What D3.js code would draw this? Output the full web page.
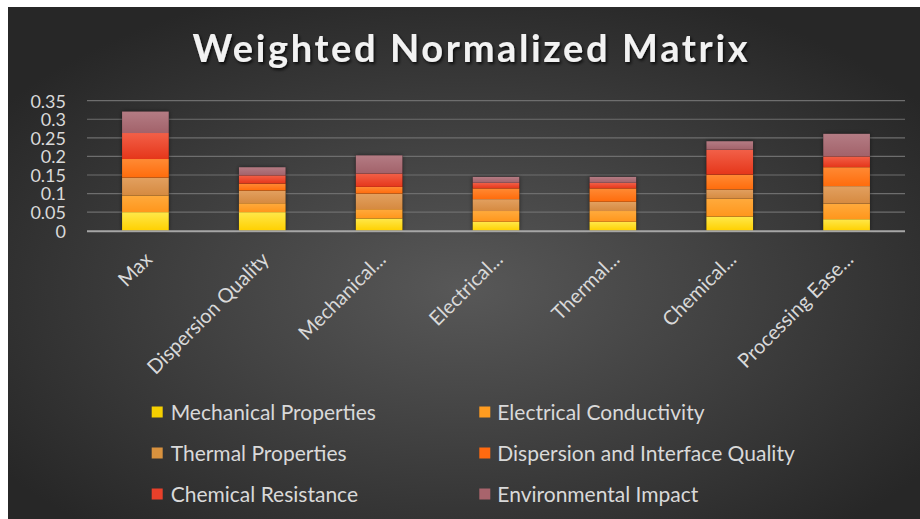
<!DOCTYPE html>
<html><head><meta charset="utf-8">
<script src="https://cdn.jsdelivr.net/npm/d3@7/dist/d3.min.js"></script>
<style>html,body{margin:0;padding:0;background:#fff;}svg{display:block;}</style>
</head><body>
<svg id="chart" width="920" height="519"></svg>
<script>
const categories = ["Max","Dispersion Quality","Mechanical...","Electrical...","Thermal...","Chemical...","Processing Ease..."];
const seriesNames = ["Mechanical Properties","Electrical Conductivity","Thermal Properties","Dispersion and Interface Quality","Chemical Resistance","Environmental Impact"];
const mechanical = [0.050, 0.050, 0.033, 0.024, 0.024, 0.038, 0.031];
const electrical = [0.045, 0.024, 0.025, 0.029, 0.029, 0.048, 0.042];
const thermal    = [0.048, 0.034, 0.042, 0.032, 0.025, 0.025, 0.047];
const dispersion = [0.050, 0.019, 0.018, 0.029, 0.036, 0.040, 0.051];
const chemical   = [0.070, 0.022, 0.036, 0.015, 0.015, 0.067, 0.029];
const environmental = [0.058, 0.022, 0.049, 0.016, 0.016, 0.023, 0.061];
const yTicks = [0, 0.05, 0.1, 0.15, 0.2, 0.25, 0.3, 0.35];
const yTickLabels = ["0","0.05","0.1","0.15","0.2","0.25","0.3","0.35"];
const title = "Weighted Normalized Matrix";

const seriesValues = [mechanical, electrical, thermal, dispersion, chemical, environmental];
const colors = ["#FFD000","#FF961C","#D68A40","#FF6C0C","#E5361A","#A2626A"];
const topColors = ["#FFE84A","#FFAA3C","#E2A060","#FF8A34","#F26048","#B47C84"];
const legendColors = ["#F5D000","#FF9C20","#D9923E","#FF6A10","#E8402A","#A8646C"];

const svg = d3.select("#chart");
const defs = svg.append("defs");
const bg = defs.append("radialGradient").attr("id","bg").attr("cx","50%").attr("cy","55%").attr("r","62%");
bg.append("stop").attr("offset","0%").attr("stop-color","#585858");
bg.append("stop").attr("offset","100%").attr("stop-color","#272727");
seriesNames.forEach((s,i)=>{
  const g = defs.append("linearGradient").attr("id","sg"+i).attr("x1",0).attr("y1",0).attr("x2",0).attr("y2",1);
  g.append("stop").attr("offset","0%").attr("stop-color",topColors[i]);
  g.append("stop").attr("offset","100%").attr("stop-color",colors[i]);
});
const sh = defs.append("filter").attr("id","tshadow").attr("x","-10%").attr("y","-30%").attr("width","120%").attr("height","160%");
sh.append("feDropShadow").attr("dx",1.5).attr("dy",2).attr("stdDeviation",1.5).attr("flood-color","#000").attr("flood-opacity",0.8);
const bsh = defs.append("filter").attr("id","bshadow").attr("x","-20%").attr("y","-10%").attr("width","140%").attr("height","120%");
bsh.append("feDropShadow").attr("dx",0).attr("dy",0).attr("stdDeviation",2).attr("flood-color","#000").attr("flood-opacity",0.5);

svg.append("rect").attr("x",8).attr("y",7).attr("width",912).attr("height",512).attr("fill","url(#bg)");

svg.append("text").attr("x",470).attr("y",62).attr("text-anchor","middle")
  .attr("font-family","Lato, 'Open Sans', sans-serif").attr("font-weight","bold").attr("font-size",38)
  .attr("textLength",555).attr("lengthAdjust","spacing")
  .attr("fill","#f2f2f2").attr("filter","url(#tshadow)").text(title);

const x = d3.scaleBand().domain(categories).range([87,905]).paddingInner(0.6).paddingOuter(0.3);
const y = d3.scaleLinear().domain([0,0.35]).range([230.7,100.7]);

// gridlines
svg.append("g").selectAll("line").data(yTicks.filter(t=>t>0)).join("line")
  .attr("x1",87).attr("x2",905).attr("y1",d=>y(d)).attr("y2",d=>y(d))
  .attr("stroke","#6e6e6e").attr("stroke-width",1.2);

// y axis labels
const yAxis = d3.axisLeft(y).tickValues(yTicks).tickFormat((d,i)=>yTickLabels[i]).tickSize(0).tickPadding(0);
const ya = svg.append("g").attr("transform","translate(66,0)").call(yAxis);
ya.select(".domain").remove();
ya.selectAll("text").attr("font-family","Lato, 'Open Sans', sans-serif").attr("font-size",18).attr("fill","#d9d9d9").attr("dy","0.35em");

// stacked bars
const table = categories.map((c,ci)=>{ const o={cat:c}; seriesNames.forEach((s,si)=>o[s]=seriesValues[si][ci]); return o; });
const stack = d3.stack().keys(seriesNames)(table);
const barsG = svg.append("g");
barsG.selectAll("rect.sh").data(table).join("rect").attr("class","sh")
  .attr("x",d=>x(d.cat)).attr("width",x.bandwidth())
  .attr("y",(d,i)=>y(stack[stack.length-1][i][1])).attr("height",(d,i)=>y(0)-y(stack[stack.length-1][i][1]))
  .attr("fill","#000").attr("filter","url(#bshadow)");
stack.forEach((layer,si)=>{
  barsG.append("g").selectAll("rect").data(layer).join("rect")
    .attr("x",d=>x(d.data.cat)).attr("width",x.bandwidth())
    .attr("y",d=>y(d[1])).attr("height",d=>y(d[0])-y(d[1]))
    .attr("fill","url(#sg"+si+")");
});

// x axis line
svg.append("line").attr("x1",87).attr("x2",905).attr("y1",y(0)+0.5).attr("y2",y(0)+0.5).attr("stroke","#a6a6a6").attr("stroke-width",2);

// category labels
const xAxis = d3.axisBottom(x).tickSize(0).tickPadding(0);
const xa = svg.append("g").attr("transform","translate(0,"+y(0)+")").call(xAxis);
xa.select(".domain").remove();
xa.selectAll("text").attr("font-family","Lato, 'Open Sans', sans-serif").attr("font-size",20).attr("fill","#d9d9d9")
  .attr("text-anchor","end").attr("dy",0).attr("y",0)
  .attr("transform","translate(8,30) rotate(-45)");

// legend
const legCols = [151.7, 479.3];
const legRows = [412.5, 453.5, 494.5];
const leg = svg.append("g").selectAll("g").data(seriesNames).join("g")
  .attr("transform",(d,i)=>"translate("+legCols[i%2]+","+legRows[Math.floor(i/2)]+")");
leg.append("rect").attr("x",0).attr("y",-6).attr("width",11).attr("height",11).attr("fill",(d,i)=>legendColors[i]);
leg.append("text").attr("x",(d,i)=>i%2===0?19:18).attr("y",0).attr("dy","0.35em").attr("font-family","Lato, 'Open Sans', sans-serif").attr("font-size",21)
  .attr("fill","#d9d9d9").text(d=>d);
</script>
</body></html>
